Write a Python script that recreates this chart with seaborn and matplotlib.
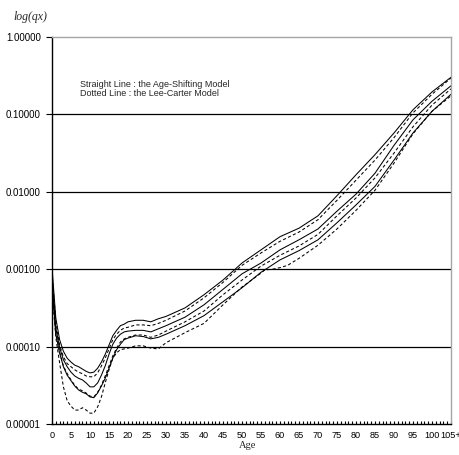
import numpy as np
import pandas as pd
import matplotlib
matplotlib.use("Agg")
import matplotlib.pyplot as plt
import matplotlib.ticker as mticker
import matplotlib.transforms as mtransforms
import seaborn as sns

# ---------------- data (log10 of qx) ----------------
ages = [0, 1, 2, 3, 4, 5, 6, 7, 8, 9, 10, 11, 12, 13, 14, 15, 16, 17, 18, 19, 20,
        22, 24, 26, 28, 30, 35, 40, 45, 50, 55, 60, 65, 70, 75, 80, 85, 90, 95, 100, 105]

# Age-Shifting model (solid lines)
as_1 = [-2.98, -3.63, -3.91, -4.06, -4.15, -4.20, -4.24, -4.26, -4.29, -4.32, -4.34, -4.33, -4.28, -4.20,
        -4.10, -3.98, -3.86, -3.79, -3.73, -3.71, -3.68, -3.66, -3.66, -3.68, -3.64, -3.61, -3.50, -3.33,
        -3.14, -2.92, -2.75, -2.58, -2.47, -2.31, -2.05, -1.78, -1.52, -1.24, -0.94, -0.71, -0.52]
as_2 = [-3.11, -3.76, -4.01, -4.17, -4.26, -4.33, -4.38, -4.41, -4.43, -4.47, -4.52, -4.52, -4.47, -4.37,
        -4.25, -4.10, -3.97, -3.89, -3.84, -3.81, -3.80, -3.79, -3.79, -3.81, -3.77, -3.73, -3.62, -3.46,
        -3.26, -3.06, -2.92, -2.75, -2.62, -2.48, -2.25, -2.03, -1.76, -1.40, -1.07, -0.83, -0.63]
as_3 = [-3.20, -3.84, -4.08, -4.26, -4.37, -4.44, -4.51, -4.56, -4.59, -4.61, -4.65, -4.66, -4.60, -4.51,
        -4.41, -4.28, -4.15, -4.04, -3.97, -3.91, -3.89, -3.86, -3.87, -3.90, -3.88, -3.84, -3.73, -3.60,
        -3.42, -3.24, -3.04, -2.88, -2.76, -2.62, -2.40, -2.17, -1.93, -1.59, -1.24, -0.96, -0.74]

# Lee-Carter model (dotted lines)
lc_1 = [-3.04, -3.68, -3.98, -4.13, -4.22, -4.26, -4.30, -4.33, -4.35, -4.38, -4.39, -4.39, -4.34, -4.25,
        -4.15, -4.03, -3.91, -3.84, -3.79, -3.76, -3.75, -3.72, -3.72, -3.73, -3.70, -3.66, -3.54, -3.37,
        -3.17, -2.95, -2.79, -2.64, -2.52, -2.36, -2.11, -1.85, -1.59, -1.30, -0.98, -0.74, -0.53]
lc_2 = [-3.17, -3.81, -4.07, -4.25, -4.35, -4.43, -4.50, -4.55, -4.57, -4.60, -4.64, -4.65, -4.59, -4.50,
        -4.38, -4.25, -4.12, -4.02, -3.94, -3.90, -3.88, -3.85, -3.85, -3.88, -3.85, -3.80, -3.68, -3.54,
        -3.33, -3.14, -2.96, -2.82, -2.70, -2.55, -2.31, -2.08, -1.82, -1.50, -1.16, -0.88, -0.67]
lc3_ages = [0, 1, 2, 3, 4, 5, 6, 7, 8, 9, 10, 11, 12, 13, 14, 15, 16, 17, 18, 19, 20,
            22, 24, 26, 28, 30, 35, 40, 45, 50, 55, 56, 58, 60, 62, 65, 70, 75, 80, 85, 90, 95, 100, 105]
lc_3 = [-3.27, -3.88, -4.21, -4.52, -4.70, -4.77, -4.82, -4.82, -4.79, -4.82, -4.86, -4.86, -4.78, -4.65,
        -4.47, -4.30, -4.15, -4.08, -4.04, -4.03, -4.02, -3.99, -3.99, -4.02, -4.03, -3.95, -3.82, -3.70,
        -3.46, -3.23, -3.05, -3.01, -3.00, -2.98, -2.95, -2.86, -2.69, -2.48, -2.24, -1.98, -1.63, -1.25,
        -0.96, -0.76]

tick_ages = list(range(0, 106, 5))
tick_labels = [str(a) for a in tick_ages[:-1]] + ["105+"]
y_ticks = [1e-5, 1e-4, 1e-3, 1e-2, 1e-1, 1.0]

# ---------------- build long table ----------------
frames = []
for name, model, a, v in [("as1", "AS", ages, as_1), ("as2", "AS", ages, as_2), ("as3", "AS", ages, as_3),
                          ("lc1", "LC", ages, lc_1), ("lc2", "LC", ages, lc_2), ("lc3", "LC", lc3_ages, lc_3)]:
    frames.append(pd.DataFrame({"age": a, "qx": np.power(10.0, v), "series": name, "model": model}))
df = pd.concat(frames, ignore_index=True)

# ---------------- figure ----------------
sns.set_style("white")
plt.rcParams["font.family"] = ["Liberation Sans Narrow", "Liberation Sans", "DejaVu Sans"]

fig = plt.figure(figsize=(4.6, 4.55), dpi=100)
ax = fig.add_axes([52 / 460, 1 - 424 / 455, 399 / 460, 387 / 455])

sns.lineplot(data=df, x="age", y="qx", units="series", style="model", estimator=None,
             dashes={"AS": "", "LC": (3, 2.2)}, color="black", linewidth=0.75,
             legend=False, ax=ax, sort=False)

ax.set_yscale("log")
ax.set_ylim(1e-5, 1.0)
ax.set_xlim(0, 105)
ax.set_yticks(y_ticks)
ax.yaxis.set_minor_locator(mticker.NullLocator())
ax.yaxis.set_major_formatter(mticker.FuncFormatter(lambda v, p: f"{v:.5f}"))
ax.set_xticks(tick_ages)
ax.set_xticklabels(tick_labels)
ax.set_xticks(range(0, 106), minor=True)

for g in y_ticks[1:-1]:
    ax.axhline(g, color="black", linewidth=0.9, zorder=0)

ax.tick_params(axis="y", which="major", direction="out", length=4, width=0.8, pad=4,
               labelsize=7, colors="black", left=True)
ax.tick_params(axis="x", which="both", direction="in", length=2.5, width=0.8, pad=5,
               labelsize=6.6, colors="black", bottom=True)

# the last ("105+") label starts right after "100", as in the original
last = ax.get_xticklabels()[-1]
last.set_horizontalalignment("left")
last.set_transform(last.get_transform() + mtransforms.ScaledTranslation(-10.5 / 100, 0, fig.dpi_scale_trans))

ax.set_xlabel("")
ax.set_ylabel("")
for side in ["left", "bottom"]:
    ax.spines[side].set_color("black")
    ax.spines[side].set_linewidth(1.0)
for side in ["top", "right"]:
    ax.spines[side].set_color("#a6a6a6")
    ax.spines[side].set_linewidth(1.0)

fig.text(13 / 460, 1 - 17 / 455, "log(qx)", family="Liberation Serif", style="italic",
         fontsize=8.5, ha="left", va="center")
fig.text(248 / 460, 1 - 446 / 455, "Age", family="Liberation Serif", fontsize=7.5,
         ha="center", va="center")
fig.text(80 / 460, 1 - 84.5 / 455, "Straight Line : the Age-Shifting Model", fontsize=6.5,
         ha="left", va="center")
fig.text(80 / 460, 1 - 94 / 455, "Dotted Line : the Lee-Carter Model", fontsize=6.5,
         ha="left", va="center")

fig.savefig("out.png", dpi=100)
